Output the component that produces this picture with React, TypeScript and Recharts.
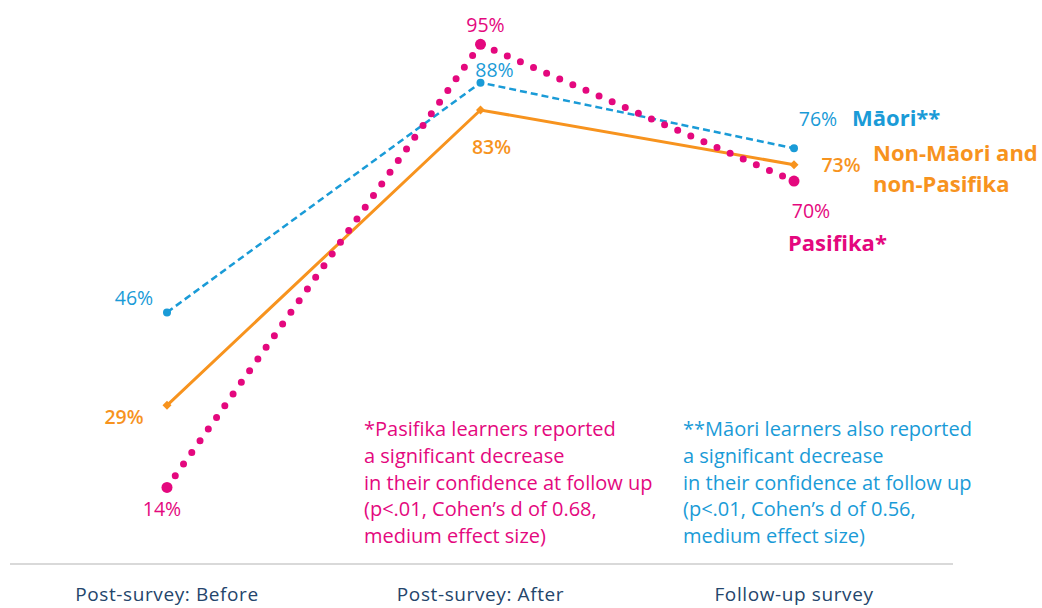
import { LineChart, Line, XAxis, YAxis, LabelList } from 'recharts';

const categories = ['Post-survey: Before', 'Post-survey: After', 'Follow-up survey'];
const maori = [46, 88, 76];
const nonMaori = [29, 83, 73];
const pasifika = [14, 95, 70];

const data = categories.map((stage, i) => ({
  stage,
  maori: maori[i],
  nonMaori: nonMaori[i],
  pasifika: pasifika[i],
}));

const BLUE = '#1a9bd7';
const ORANGE = '#f7931e';
const PINK = '#e4087e';
const FONT = '"Open Sans", Lato, sans-serif';

// label offsets from each point, per series
const blueOff = [[-33, -15], [14, -13], [24, -30]];
const orangeOff = [[-43, 11], [11, 37], [47, 0]];
const pinkOff = [[-5, 21], [5, -20], [17, 29]];

const valueLabel = (color: string, offs: number[][], bold = false) => (props: any) => {
  const { x, y, value, index } = props;
  const o = offs[index] || [0, 0];
  return (
    <text
      x={x + o[0]}
      y={y + o[1]}
      textAnchor="middle"
      dominantBaseline="central"
      fill={color}
      fontSize={19.5}
      fontWeight={bold ? 600 : 400}
      fontFamily={FONT}
    >
      {value}%
    </text>
  );
};

const Diamond = (props: any) => {
  const { cx, cy } = props;
  if (cx == null || cy == null) return null;
  const s = 4.5;
  return <path d={`M${cx},${cy - s}L${cx + s},${cy}L${cx},${cy + s}L${cx - s},${cy}Z`} fill={ORANGE} />;
};

const noteStyle = (color: string, left: number): React.CSSProperties => ({
  position: 'absolute',
  left,
  top: 416,
  color,
  fontFamily: FONT,
  fontSize: 20,
  lineHeight: '26.8px',
  whiteSpace: 'pre',
});

const nameStyle = (color: string, left: number, top: number): React.CSSProperties => ({
  position: 'absolute',
  left,
  top,
  color,
  fontFamily: FONT,
  fontSize: 22,
  fontWeight: 700,
  lineHeight: '31px',
  whiteSpace: 'pre',
});

export default function App() {
  return (
    <div style={{ position: 'absolute', left: 0, top: 0, width: 1042, height: 608, background: '#fff' }}>
      <LineChart width={1042} height={608} data={data} margin={{ top: 17, right: 89, bottom: 0, left: 10 }}>
        <XAxis
          dataKey="stage"
          padding={{ left: 157, right: 159 }}
          axisLine={{ stroke: '#d9d9d9', strokeWidth: 2 }}
          tickLine={false}
          tickSize={0}
          tickMargin={24}
          height={44}
          tick={{ fill: '#24456b', fontSize: 19, letterSpacing: 0.6, fontFamily: FONT }}
        />
        <YAxis hide domain={[0, 100]} />
        <Line
          dataKey="maori"
          stroke={BLUE}
          strokeWidth={2.5}
          strokeDasharray="7 4"
          dot={{ r: 4, fill: BLUE, stroke: 'none' }}
          isAnimationActive={false}
        >
          <LabelList dataKey="maori" content={valueLabel(BLUE, blueOff)} />
        </Line>
        <Line
          dataKey="nonMaori"
          stroke={ORANGE}
          strokeWidth={3}
          dot={<Diamond />}
          isAnimationActive={false}
        >
          <LabelList dataKey="nonMaori" content={valueLabel(ORANGE, orangeOff, true)} />
        </Line>
        <Line
          dataKey="pasifika"
          stroke={PINK}
          strokeWidth={7}
          strokeDasharray="0 14.3"
          strokeLinecap="round"
          dot={{ r: 5.5, fill: PINK, stroke: 'none', strokeDasharray: '' }}
          isAnimationActive={false}
        >
          <LabelList dataKey="pasifika" content={valueLabel(PINK, pinkOff)} />
        </Line>
      </LineChart>

      <div style={nameStyle(BLUE, 852, 102)}>Māori**</div>
      <div style={nameStyle(ORANGE, 873, 137)}>{'Non-Māori and\nnon-Pasifika'}</div>
      <div style={nameStyle(PINK, 788, 227)}>Pasifika*</div>

      <div style={noteStyle(PINK, 364)}>
        {'*Pasifika learners reported\na significant decrease\nin their confidence at follow up\n(p<.01, Cohen’s d of 0.68,\nmedium effect size)'}
      </div>
      <div style={noteStyle(BLUE, 683)}>
        {'**Māori learners also reported\na significant decrease\nin their confidence at follow up\n(p<.01, Cohen’s d of 0.56,\nmedium effect size)'}
      </div>
    </div>
  );
}
